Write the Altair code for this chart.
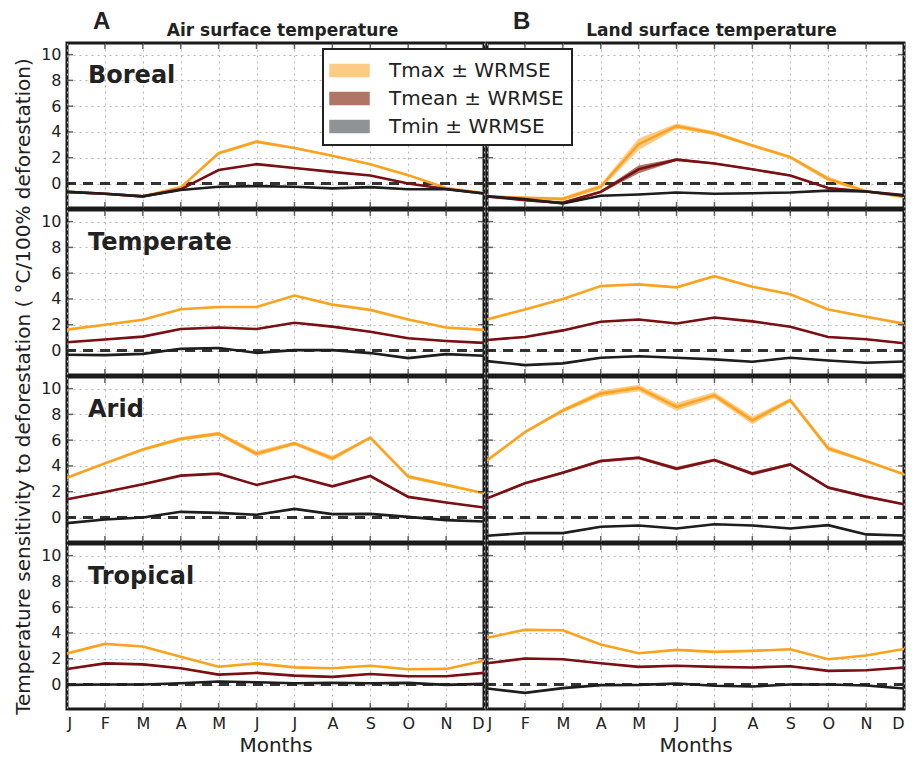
import altair as alt
import pandas as pd

months = ["J", "F", "M", "A", "M", "J", "J", "A", "S", "O", "N", "D"]
month_num = list(range(1, 13))
regions = ["Boreal", "Temperate", "Arid", "Tropical"]
datasets = ["Air surface temperature", "Land surface temperature"]
panel_letters = ["A", "B"]
series_names = ["Tmax \u00b1 WRMSE", "Tmean \u00b1 WRMSE", "Tmin \u00b1 WRMSE"]
y_ticks = [0, 2, 4, 6, 8, 10]

# ---- Air surface temperature ----
air_boreal_tmax = [-0.65, -0.8, -1.0, -0.3, 2.35, 3.25, 2.75, 2.15, 1.5, 0.65, -0.35, -0.75]
air_boreal_tmean = [-0.65, -0.8, -1.0, -0.45, 1.05, 1.5, 1.2, 0.9, 0.62, 0.0, -0.42, -0.78]
air_boreal_tmin = [-0.65, -0.8, -1.0, -0.5, -0.25, -0.2, -0.25, -0.38, -0.28, -0.45, -0.45, -0.78]

air_temperate_tmax = [1.62, 2.0, 2.38, 3.2, 3.38, 3.38, 4.26, 3.56, 3.15, 2.41, 1.79, 1.6]
air_temperate_tmean = [0.64, 0.85, 1.08, 1.67, 1.79, 1.67, 2.15, 1.85, 1.46, 0.95, 0.74, 0.59]
air_temperate_tmin = [-0.33, -0.36, -0.26, 0.13, 0.2, -0.18, 0.03, 0.03, -0.2, -0.59, -0.28, -0.41]

air_arid_tmax = [3.09, 4.2, 5.28, 6.1, 6.5, 4.95, 5.75, 4.59, 6.19, 3.17, 2.53, 1.88]
air_arid_tmean = [1.42, 1.98, 2.58, 3.25, 3.4, 2.53, 3.2, 2.42, 3.22, 1.6, 1.16, 0.77]
air_arid_tmin = [-0.44, -0.15, 0.0, 0.44, 0.36, 0.21, 0.67, 0.26, 0.28, 0.05, -0.2, -0.31]

air_tropical_tmax = [2.41, 3.15, 2.95, 2.15, 1.38, 1.64, 1.33, 1.26, 1.46, 1.18, 1.21, 1.85]
air_tropical_tmean = [1.2, 1.64, 1.56, 1.26, 0.77, 0.9, 0.69, 0.59, 0.82, 0.64, 0.64, 0.9]
air_tropical_tmin = [-0.03, 0.0, 0.0, 0.1, 0.23, 0.18, 0.1, 0.13, 0.1, 0.13, -0.03, 0.05]

# ---- Land surface temperature ----
land_boreal_tmax = [-1.0, -1.1, -1.2, -0.25, 3.05, 4.45, 3.9, 2.95, 2.05, 0.35, -0.6, -1.05]
land_boreal_tmean = [-1.0, -1.3, -1.5, -0.65, 1.1, 1.85, 1.55, 1.1, 0.62, -0.35, -0.62, -0.9]
land_boreal_tmin = [-1.0, -1.2, -1.55, -0.95, -0.85, -0.7, -0.8, -0.75, -0.7, -0.55, -0.62, -0.95]

land_temperate_tmax = [2.41, 3.18, 4.0, 5.0, 5.13, 4.9, 5.77, 4.95, 4.36, 3.18, 2.62, 2.08]
land_temperate_tmean = [0.82, 1.05, 1.56, 2.23, 2.41, 2.1, 2.56, 2.26, 1.85, 1.05, 0.87, 0.56]
land_temperate_tmin = [-0.82, -1.13, -1.0, -0.56, -0.44, -0.56, -0.69, -0.87, -0.56, -0.77, -0.95, -0.85]

land_arid_tmax = [4.43, 6.62, 8.3, 9.61, 10.05, 8.58, 9.48, 7.53, 9.1, 5.36, 4.38, 3.35]
land_arid_tmean = [1.49, 2.65, 3.48, 4.38, 4.64, 3.79, 4.46, 3.4, 4.12, 2.32, 1.62, 1.03]
land_arid_tmin = [-1.42, -1.21, -1.21, -0.72, -0.62, -0.85, -0.52, -0.62, -0.85, -0.59, -1.31, -1.39]

land_tropical_tmax = [3.62, 4.24, 4.21, 3.1, 2.43, 2.69, 2.53, 2.61, 2.74, 1.96, 2.25, 2.76]
land_tropical_tmean = [1.65, 2.02, 1.96, 1.65, 1.37, 1.45, 1.37, 1.32, 1.42, 1.06, 1.11, 1.32]
land_tropical_tmin = [-0.31, -0.65, -0.28, -0.05, -0.03, 0.08, -0.1, -0.16, 0.0, 0.0, -0.08, -0.31]

# ---- WRMSE (half-width of shaded bands) ----
err_small = [0.06, 0.06, 0.06, 0.06, 0.06, 0.06, 0.06, 0.06, 0.06, 0.06, 0.06, 0.06]
err_air_boreal_tmax = [0.06, 0.06, 0.08, 0.1, 0.12, 0.12, 0.1, 0.08, 0.08, 0.08, 0.06, 0.06]
err_land_boreal_tmax = [0.08, 0.1, 0.15, 0.2, 0.45, 0.2, 0.15, 0.12, 0.12, 0.2, 0.1, 0.08]
err_land_boreal_tmean = [0.05, 0.08, 0.1, 0.1, 0.3, 0.1, 0.08, 0.08, 0.08, 0.08, 0.05, 0.05]
err_air_arid_tmax = [0.08, 0.1, 0.12, 0.15, 0.15, 0.2, 0.15, 0.2, 0.1, 0.15, 0.1, 0.08]
err_land_arid_tmax = [0.1, 0.1, 0.15, 0.25, 0.25, 0.3, 0.25, 0.3, 0.15, 0.2, 0.1, 0.1]
err_land_arid_tmean = [0.08, 0.08, 0.1, 0.12, 0.12, 0.15, 0.12, 0.15, 0.1, 0.1, 0.08, 0.08]

series_table = {
    ("air", "Boreal"): [(air_boreal_tmax, err_air_boreal_tmax), (air_boreal_tmean, err_small), (air_boreal_tmin, err_small)],
    ("air", "Temperate"): [(air_temperate_tmax, err_small), (air_temperate_tmean, err_small), (air_temperate_tmin, err_small)],
    ("air", "Arid"): [(air_arid_tmax, err_air_arid_tmax), (air_arid_tmean, err_small), (air_arid_tmin, err_small)],
    ("air", "Tropical"): [(air_tropical_tmax, err_small), (air_tropical_tmean, err_small), (air_tropical_tmin, err_small)],
    ("land", "Boreal"): [(land_boreal_tmax, err_land_boreal_tmax), (land_boreal_tmean, err_land_boreal_tmean), (land_boreal_tmin, err_small)],
    ("land", "Temperate"): [(land_temperate_tmax, err_small), (land_temperate_tmean, err_small), (land_temperate_tmin, err_small)],
    ("land", "Arid"): [(land_arid_tmax, err_land_arid_tmax), (land_arid_tmean, err_land_arid_tmean), (land_arid_tmin, err_small)],
    ("land", "Tropical"): [(land_tropical_tmax, err_small), (land_tropical_tmean, err_small), (land_tropical_tmin, err_small)],
}

line_colors = ["#FBA31F", "#7A0F14", "#1E1E1E"]
band_colors = ["#FDCB85", "#B07565", "#919296"]

W, H = 417, 165
FONT = "DejaVu Sans"
TXT = "#222222"

xscale = alt.Scale(domain=[1, 12], nice=False, zero=False)
yscale = alt.Scale(domain=[-1.9, 10.9], nice=False, zero=False)
label_expr = "[" + ",".join("'%s'" % m for m in months) + "][datum.value - 1]"

legend = alt.Legend(
    title=None, orient="none", legendX=256, legendY=6,
    symbolType="M-1.5,-0.5H1.5V0.5H-1.5Z", symbolSize=729, symbolStrokeWidth=0,
    symbolOpacity=1, symbolOffset=5, labelFontSize=20, labelFont=FONT, labelColor=TXT,
    labelOffset=26, labelLimit=400, rowPadding=4, padding=8,
    strokeColor="#222222", fillColor="white", cornerRadius=0,
)

tick_x_df = pd.DataFrame({"m": month_num[1:-1]})
tick_y_df = pd.DataFrame({"v": y_ticks})


def panel(ds_key, ds_idx, reg, bottom, left):
    rows = []
    for name, (vals, errs) in zip(series_names, series_table[(ds_key, reg)]):
        for m, v, e in zip(month_num, vals, errs):
            rows.append({"series": name, "m": m, "value": v, "lo": v - e, "hi": v + e})
    d = pd.DataFrame(rows)

    xaxis = alt.Axis(values=month_num, labelExpr=label_expr, labels=bottom,
                     title="Months" if bottom else None, ticks=False, domain=False,
                     grid=True, labelFontSize=16, labelPadding=6, titleFontSize=20,
                     titleFontWeight="normal", titlePadding=4)
    yaxis = alt.Axis(values=y_ticks, labels=left, title=None, ticks=False, domain=False,
                     grid=True, labelFontSize=16, labelPadding=6)

    def X(field):
        return alt.X(field, scale=xscale, axis=xaxis)

    def Y(field):
        return alt.Y(field, scale=yscale, axis=yaxis)

    base = alt.Chart(d)
    area = base.mark_area(clip=True, opacity=1).encode(
        x=X("m:Q"), y=Y("lo:Q"), y2="hi:Q",
        fill=alt.Fill("series:N", scale=alt.Scale(domain=series_names, range=band_colors),
                      legend=legend, sort=series_names),
    )
    line = base.mark_line(clip=True, strokeWidth=2.6).encode(
        x=X("m:Q"), y=Y("value:Q"),
        stroke=alt.Stroke("series:N", scale=alt.Scale(domain=series_names, range=line_colors),
                          legend=None),
    )
    zero = base.mark_rule(strokeDash=[10, 7], strokeWidth=2, color="#333333").encode(
        y=alt.datum(0, scale=yscale, axis=yaxis)
    )
    tks = alt.Chart(tick_x_df)
    tk_top = tks.mark_tick(orient="vertical", size=12, thickness=1.5, color="#222222", clip=True).encode(
        x=X("m:Q"), y=alt.value(0))
    tk_bot = tks.mark_tick(orient="vertical", size=12, thickness=1.5, color="#222222", clip=True).encode(
        x=X("m:Q"), y=alt.value(H))
    tky = alt.Chart(tick_y_df)
    tk_l = tky.mark_tick(orient="horizontal", size=12, thickness=1.5, color="#222222", clip=True).encode(
        y=Y("v:Q"), x=alt.value(0))
    tk_r = tky.mark_tick(orient="horizontal", size=12, thickness=1.5, color="#222222", clip=True).encode(
        y=Y("v:Q"), x=alt.value(W))

    layers = [area, zero, line, tk_top, tk_bot, tk_l, tk_r]
    if left:
        lab = alt.Chart(pd.DataFrame({"label": [reg]})).mark_text(
            align="left", baseline="alphabetic", fontSize=24, fontWeight="bold",
            font=FONT, color=TXT).encode(x=alt.value(21), y=alt.value(40), text="label:N")
        layers.append(lab)
    if reg == regions[0]:
        letter = alt.Chart(pd.DataFrame({"t": [panel_letters[ds_idx]]})).mark_text(
            align="left", baseline="alphabetic", fontSize=24, fontWeight="bold",
            font="Liberation Sans Narrow, Liberation Sans", color=TXT).encode(
            x=alt.value(26), y=alt.value(-14), text="t:N")
        head = alt.Chart(pd.DataFrame({"t": [datasets[ds_idx]]})).mark_text(
            align="center", baseline="alphabetic", fontSize=17, fontWeight="bold",
            font=FONT, color=TXT).encode(
            x=alt.value(W / 2 + (7 if ds_idx == 0 else 16)), y=alt.value(-7), text="t:N")
        layers += [letter, head]
    return alt.layer(*layers).properties(width=W, height=H)


panels = []
for ri, reg in enumerate(regions):
    bottom = ri == len(regions) - 1
    panels.append(panel("air", 0, reg, bottom, True))
    panels.append(panel("land", 1, reg, bottom, False))

chart = alt.concat(
    *panels, columns=2, spacing={"row": 2, "column": 3}, bounds="flush"
).properties(
    title=alt.TitleParams(
        "Temperature sensitivity to deforestation  ( \u00b0C/100% deforestation)",
        orient="left", anchor="middle", fontSize=20, font=FONT, fontWeight="normal",
        color=TXT, offset=5, dx=-4),
    background="white",
    padding={"left": 6, "top": 0, "right": 0, "bottom": 0},
).configure_view(
    stroke="#1a1a1a", strokeWidth=3
).configure_axis(
    gridColor="#b5b5b5", gridDash=[2, 4], gridWidth=1,
    labelFont=FONT, labelColor=TXT, titleFont=FONT, titleColor=TXT,
).configure_legend(
    strokeWidth=2
)

chart.save("out.html", embed_options={"renderer": "svg", "actions": False})
